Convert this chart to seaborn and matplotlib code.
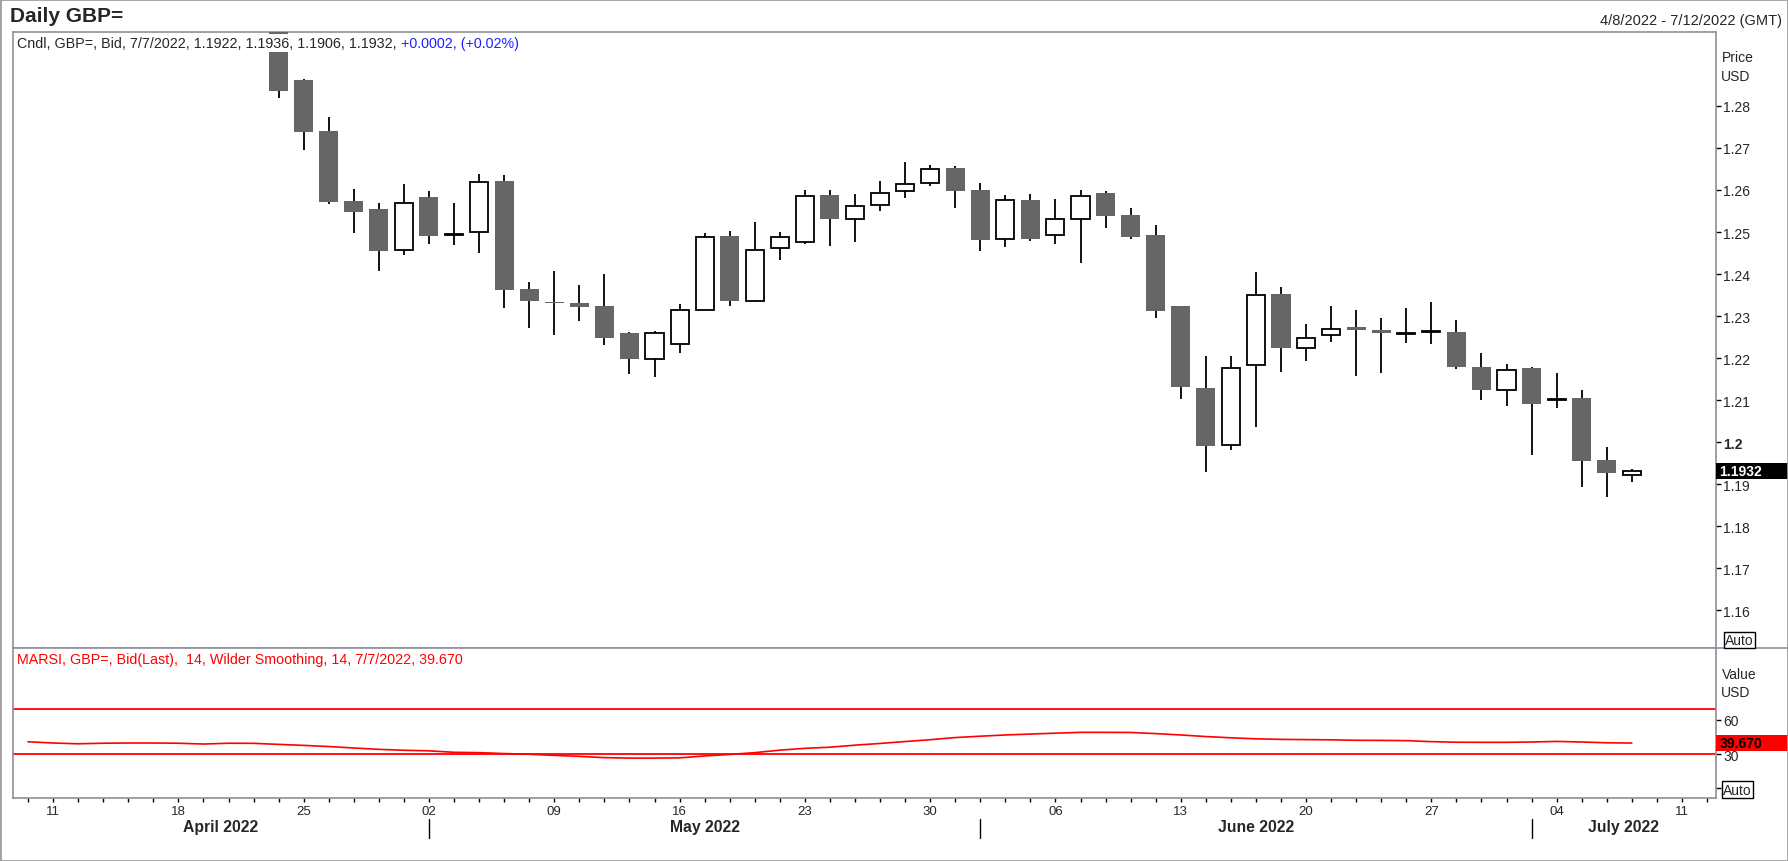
import pandas as pd
import seaborn as sns
import matplotlib.pyplot as plt
from matplotlib.patches import Rectangle
from matplotlib.lines import Line2D
from matplotlib.transforms import blended_transform_factory


# ---- data ----
axis_dates = pd.bdate_range('2022-04-08', '2022-07-12')
candle_dates = pd.bdate_range('2022-04-22', '2022-07-07')

opens = [1.3040, 1.2862, 1.2740, 1.2574, 1.2555, 1.2456,
         1.2583, 1.2493, 1.2500, 1.2621, 1.2364,
         1.2334, 1.2331, 1.2323, 1.2260, 1.2198,
         1.2233, 1.2314, 1.2490, 1.2335, 1.2463,
         1.2476, 1.2587, 1.2531, 1.2564, 1.2598,
         1.2617, 1.2652, 1.2600, 1.2483, 1.2576,
         1.2492, 1.2531, 1.2593, 1.2540, 1.2493,
         1.2324, 1.2129, 1.1993, 1.2183, 1.2352,
         1.2224, 1.2254, 1.2273, 1.2267, 1.2258,
         1.2262, 1.2261, 1.2179, 1.2125, 1.2176,
         1.2101, 1.2105, 1.1957, 1.1922]
highs = [1.3052, 1.2864, 1.2774, 1.2602, 1.2569, 1.2614,
         1.2597, 1.2569, 1.2638, 1.2635, 1.2381,
         1.2407, 1.2375, 1.2399, 1.2262, 1.2264,
         1.2329, 1.2497, 1.2502, 1.2523, 1.2499,
         1.2599, 1.2599, 1.2590, 1.2621, 1.2666,
         1.2659, 1.2656, 1.2617, 1.2588, 1.2590,
         1.2579, 1.2599, 1.2598, 1.2556, 1.2517,
         1.2325, 1.2206, 1.2204, 1.2406, 1.2368,
         1.2280, 1.2323, 1.2314, 1.2295, 1.2318,
         1.2333, 1.2290, 1.2212, 1.2187, 1.2179,
         1.2164, 1.2124, 1.1988, 1.1936]
lows = [1.2820, 1.2694, 1.2567, 1.2498, 1.2408, 1.2446,
        1.2471, 1.2468, 1.2449, 1.2320, 1.2272,
        1.2256, 1.2289, 1.2232, 1.2163, 1.2154,
        1.2213, 1.2314, 1.2325, 1.2333, 1.2434,
        1.2472, 1.2467, 1.2477, 1.2549, 1.2582,
        1.2610, 1.2558, 1.2455, 1.2465, 1.2479,
        1.2472, 1.2427, 1.2510, 1.2484, 1.2296,
        1.2103, 1.1929, 1.1982, 1.2036, 1.2167,
        1.2194, 1.2239, 1.2158, 1.2165, 1.2236,
        1.2234, 1.2175, 1.2101, 1.2086, 1.1970,
        1.2080, 1.1894, 1.1870, 1.1906]
closes = [1.2836, 1.2739, 1.2571, 1.2548, 1.2455, 1.2570,
          1.2491, 1.2495, 1.2619, 1.2363, 1.2336,
          1.2332, 1.2321, 1.2248, 1.2198, 1.2260,
          1.2314, 1.2489, 1.2336, 1.2458, 1.2487,
          1.2586, 1.2530, 1.2562, 1.2594, 1.2615,
          1.2651, 1.2598, 1.2481, 1.2575, 1.2483,
          1.2530, 1.2586, 1.2538, 1.2489, 1.2312,
          1.2132, 1.1991, 1.2177, 1.2351, 1.2223,
          1.2248, 1.2270, 1.2266, 1.2259, 1.2260,
          1.2264, 1.2179, 1.2123, 1.2172, 1.2091,
          1.2103, 1.1955, 1.1927, 1.1932]

rsi_dates = pd.bdate_range('2022-04-08', '2022-07-07')
rsi_values = [40.8, 39.7, 39.0, 39.5, 39.7, 39.7, 39.5, 38.8, 39.5, 39.4,
              38.5, 37.6, 36.6, 35.3, 34.1, 33.3, 32.8, 31.5, 31.2, 30.4,
              29.8, 28.8, 27.9, 26.8, 26.4, 26.4, 26.6, 28.3, 29.6, 31.2,
              33.4, 35.0, 36.0, 37.8, 39.3, 41.0, 42.6, 44.5, 45.7, 46.8,
              47.6, 48.4, 49.1, 49.1, 49.0, 48.0, 46.8, 45.4, 44.3, 43.4,
              42.9, 42.7, 42.5, 42.1, 42.0, 41.8, 40.9, 40.4, 40.3, 40.3,
              40.6, 41.1, 40.6, 39.9, 39.67]
rsi_bands = [70, 30]

price_ticks = [1.16, 1.17, 1.18, 1.19, 1.2, 1.21, 1.22, 1.23, 1.24, 1.25, 1.26, 1.27, 1.28]
rsi_ticks = [0, 30, 60]
rsi_tick_labels = ['Auto', '30', '60']
last_price = 1.1932
last_rsi = 39.670

# ---- style ----
sns.set_style('white')
plt.rcParams['font.family'] = ['Liberation Sans', 'DejaVu Sans']
GRID = '#8f8f9c'
DARK = '#666666'

W, H = 1788, 862
fig = plt.figure(figsize=(W / 100, H / 100), dpi=100)


def px_box(l, t, r, b):
    return [l / W, 1 - b / H, (r - l) / W, (b - t) / H]


ax = fig.add_axes(px_box(13, 33, 1716, 649))
ax2 = fig.add_axes(px_box(13, 649, 1716, 799), sharex=ax)

# ---- candles ----
df = pd.DataFrame({'date': candle_dates, 'open': opens, 'high': highs,
                   'low': lows, 'close': closes})
df['x'] = axis_dates.get_indexer(df['date'])
up = df['close'] >= df['open']

ax.vlines(df['x'], df['low'], df['high'], color='black', lw=1.3, zorder=2)
ax.bar(df['x'][up], (df['close'] - df['open'])[up], bottom=df['open'][up],
       width=0.72, facecolor='white', edgecolor='black', lw=1.3, zorder=3)
ax.bar(df['x'][~up], (df['close'] - df['open'])[~up], bottom=df['open'][~up],
       width=0.76, color=DARK, lw=0, zorder=3)

ax.set_xlim(-0.6, len(axis_dates) - 0.64)
ax.set_ylim(1.151, 1.2976)

ax.yaxis.tick_right()
ax.set_yticks(price_ticks)
ax.set_yticklabels([f'{v:g}' for v in price_ticks])
for lab, v in zip(ax.get_yticklabels(), price_ticks):
    if abs(v - 1.2) < 1e-9:
        lab.set_fontweight('bold')
ax.tick_params(axis='y', right=True, left=False, length=3.6, width=1,
               color='black', labelsize=10, pad=1.5)
ax.tick_params(axis='x', bottom=False, labelbottom=False)

# last price tag
tr = blended_transform_factory(ax.transAxes, ax.transData)
ax.add_patch(Rectangle((1.0, last_price - 0.0019), 72 / 1703, 0.0038,
                       transform=tr, facecolor='black', edgecolor='none',
                       clip_on=False, zorder=5))
ax.text(1.002, last_price, f'{last_price:.4f}', transform=tr, color='white',
        fontweight='bold', fontsize=10, ha='left', va='center', zorder=6)

# legend line of the price panel
t1 = ax.text(4 / 1703, 1 - 11 / 616, 'Cndl, GBP=, Bid, 7/7/2022, 1.1922, 1.1936, 1.1906, 1.1932,',
             transform=ax.transAxes, fontsize=10.3, ha='left', va='center', zorder=7,
             bbox=dict(facecolor='white', edgecolor='none', pad=1.5))
ax.annotate('+0.0002, (+0.02%)', xy=(1, 0.5), xycoords=t1, xytext=(3, 0),
            textcoords='offset points', fontsize=10.3, color='#2020ff',
            ha='left', va='center', zorder=7, annotation_clip=False)

# ---- RSI panel ----
rsi_x = axis_dates.get_indexer(rsi_dates)
for b in rsi_bands:
    ax2.axhline(b, color='red', lw=1.3, zorder=2)
sns.lineplot(x=rsi_x, y=rsi_values, ax=ax2, color='red', lw=1.2, zorder=3)
ax2.set_xlabel('')
ax2.set_ylabel('')
ax2.set_ylim(-8.8, 123.5)

ax2.yaxis.tick_right()
ax2.set_yticks(rsi_ticks)
ax2.set_yticklabels(rsi_tick_labels)
ax2.get_yticklabels()[0].set_bbox(dict(facecolor='white', edgecolor='black', pad=1.0, lw=1))
ax2.tick_params(axis='y', right=True, left=False, length=3.6, width=1,
                color='black', labelsize=10, pad=1.5)

tr2 = blended_transform_factory(ax2.transAxes, ax2.transData)
ax2.add_patch(Rectangle((1.0, last_rsi - 7), 72 / 1703, 14, transform=tr2,
                        facecolor='red', edgecolor='none', clip_on=False, zorder=5))
ax2.text(1.002, last_rsi, f'{last_rsi:.3f}', transform=tr2, color='black',
         fontweight='bold', fontsize=10, ha='left', va='center', zorder=6)

ax2.text(4 / 1703, 1 - 11 / 150,
         'MARSI, GBP=, Bid(Last),  14, Wilder Smoothing, 14, 7/7/2022, 39.670',
         transform=ax2.transAxes, fontsize=10.3, color='red', ha='left', va='center')

# x axis: a tick every trading day, labels on Mondays
ax2.set_xticks(range(len(axis_dates)))
ax2.set_xticklabels([d.strftime('%d') if d.weekday() == 0 else '' for d in axis_dates])
ax2.tick_params(axis='x', bottom=True, length=3, width=1, color='black',
                labelsize=9.5, pad=2)

# month separators and month names
xl = ax2.get_xlim()
month_first = [i for i in range(1, len(axis_dates))
               if axis_dates[i].month != axis_dates[i - 1].month]
bounds = [xl[0]] + month_first + [xl[1]]
trm = blended_transform_factory(ax2.transData, ax2.transAxes)
for s in month_first:
    ax2.plot([s, s], [-0.14, -0.267], transform=trm, color='black', lw=1, clip_on=False)
for a, b in zip(bounds[:-1], bounds[1:]):
    name = axis_dates[int(max(a, 0))].strftime('%B %Y')
    ax2.text((a + b) / 2, -0.193, name, transform=trm, ha='center', va='center',
             fontsize=11.3, fontweight='bold')

for a in (ax, ax2):
    for sp in a.spines.values():
        sp.set_color(GRID)
        sp.set_linewidth(1.2)

# ---- figure texts ----
fig.text(10 / W, 1 - 17 / H, 'Daily GBP=', fontsize=15, fontweight='bold', va='center')
fig.text(1782 / W, 1 - 21 / H, '4/8/2022 - 7/12/2022 (GMT)', fontsize=10.5,
         ha='right', va='center')
fig.text(1722 / W, 1 - 58 / H, 'Price', fontsize=10, va='center')
fig.text(1721 / W, 1 - 77 / H, 'USD', fontsize=10, va='center')
fig.text(1722 / W, 1 - 675 / H, 'Value', fontsize=10, va='center')
fig.text(1721 / W, 1 - 693 / H, 'USD', fontsize=10, va='center')
fig.text(1725 / W, 1 - 641 / H, 'Auto', fontsize=10, va='center',
         bbox=dict(facecolor='white', edgecolor='black', pad=1.0, lw=1))

fig.add_artist(Line2D([1716 / W, 1], [1 - 649 / H] * 2, color=GRID, lw=1.2))
fig.add_artist(Rectangle((0, 0), 1, 1, transform=fig.transFigure, fill=False,
                         edgecolor='#a0a0a0', lw=2))

fig.savefig('out.png', dpi=100)
